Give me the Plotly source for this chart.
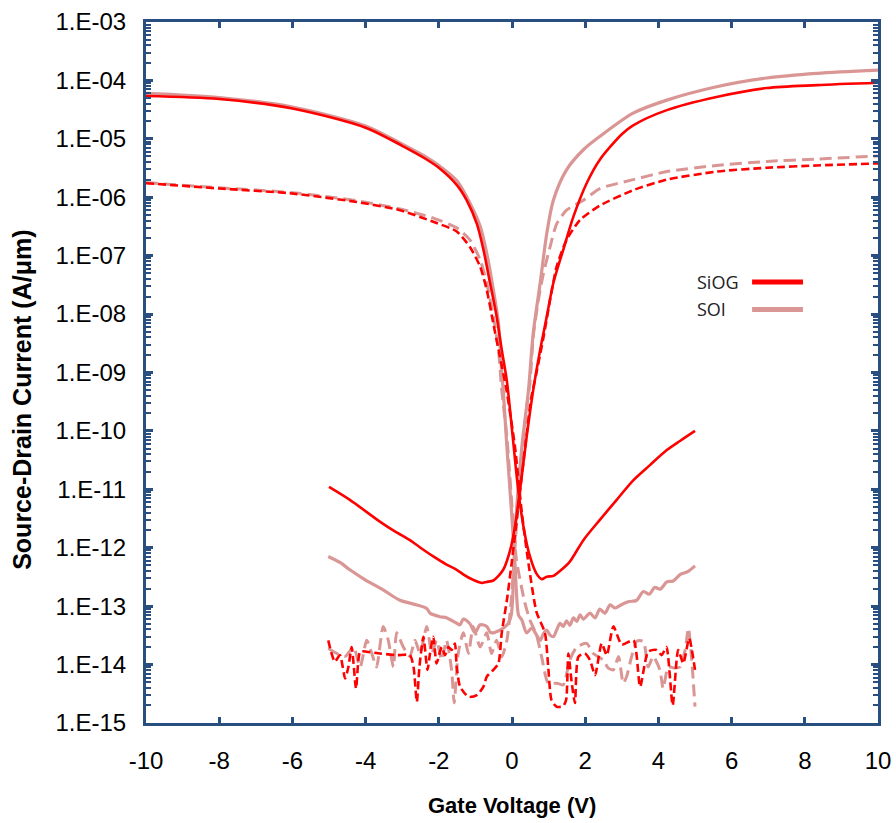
import plotly.graph_objects as go

# ---------------- data (Gate voltage V, source-drain current A/um) ----------------
# SiOG, high drain bias, p-branch (high current at negative gate voltage)
siog_hi_p_v = [-10, -8, -6, -4, -3, -2.4, -2.0, -1.5, -1.24, -0.96, -0.78, -0.6, -0.42, -0.28, -0.14,
               0.02, 0.17, 0.33, 0.49, 0.67, 0.81, 0.95, 1.13, 1.35, 1.58, 1.95, 2.4, 2.86, 3.3, 3.77, 4.23, 4.6, 5.0]
siog_hi_p_i = [5.4e-5, 4.8e-5, 3.3e-5, 1.55e-5, 7.6e-6, 4.7e-6, 3.2e-6, 1.6e-6, 8.9e-7, 3.5e-7, 1.26e-7, 3.4e-8, 9.1e-9, 2.45e-9, 7.1e-10,
               7.9e-11, 9.8e-12, 2.0e-12, 7.1e-13, 3.6e-13, 2.9e-13, 3.2e-13, 3.3e-13, 4.2e-13, 5.8e-13, 1.35e-12, 3.0e-12, 6.6e-12, 1.4e-11, 2.6e-11, 4.7e-11, 6.8e-11, 1.0e-10]

# SiOG, high drain bias, n-branch (high current at positive gate voltage)
siog_hi_n_v = [-5.0, -4.43, -3.61, -3.2, -2.79, -2.5, -2.15, -1.8, -1.51, -1.3, -1.15, -0.83, -0.7, -0.51, -0.24, -0.05, 0.08, 0.22,
               0.4, 0.58, 0.77, 0.95, 1.13, 1.4, 1.68, 2.04, 2.4, 3.0, 3.31, 4.23, 5.59, 6.96, 8.33, 10]
siog_hi_n_i = [1.1e-11, 6.6e-12, 2.8e-12, 1.9e-12, 1.35e-12, 1.0e-12, 7.1e-13, 5.2e-13, 4.2e-13, 3.4e-13, 3.0e-13, 2.5e-13, 2.6e-13, 2.75e-13, 4.2e-13, 9.1e-13, 2.3e-12, 9.8e-12,
               7.9e-11, 5.0e-10, 2.45e-9, 9.1e-9, 3.4e-8, 1.26e-7, 4.7e-7, 1.74e-6, 4.4e-6, 1.2e-5, 1.7e-5, 3.1e-5, 5.2e-5, 7.4e-5, 8.3e-5, 9.1e-5]

# SOI, high drain bias, p-branch
soi_hi_p_v = [-10, -8, -6, -4, -3, -2.4, -2.0, -1.5, -1.24, -0.87, -0.69, -0.51, -0.37, -0.3, -0.24, -0.14, -0.01, 0.08, 0.13, 0.18,
              0.27, 0.4, 0.54, 0.66, 0.77, 0.86, 0.95, 1.04, 1.13, 1.22, 1.31, 1.4, 1.49, 1.58, 1.68, 1.77, 1.86, 1.95, 2.13, 2.27, 2.4,
              2.54, 2.68, 2.82, 3.0, 3.2, 3.4, 3.59, 3.75, 3.9, 4.05, 4.23, 4.4, 4.6, 4.8, 5.0]
soi_hi_p_i = [6.0e-5, 5.1e-5, 3.5e-5, 1.66e-5, 8.1e-6, 5.1e-6, 3.5e-6, 1.9e-6, 1.02e-6, 3.2e-7, 1.1e-7, 2.6e-8, 6.9e-9, 1.45e-9, 5.0e-10, 5.4e-11, 3.9e-12, 5.4e-13, 1.4e-13, 7.0e-14,
              5.8e-14, 3.5e-14, 4.2e-14, 3.3e-14, 2.6e-14, 3.4e-14, 3.9e-14, 3.2e-14, 3.0e-14, 3.9e-14, 5.1e-14, 4.5e-14, 5.6e-14, 4.7e-14, 6.3e-14, 5.5e-14, 7.1e-14, 6.0e-14, 7.6e-14, 6.3e-14, 8.9e-14,
              7.6e-14, 1.05e-13, 9.3e-14, 1.07e-13, 1.2e-13, 1.25e-13, 1.78e-13, 1.6e-13, 2.1e-13, 1.95e-13, 2.6e-13, 2.7e-13, 3.5e-13, 3.9e-13, 4.9e-13]

# SOI, high drain bias, n-branch
soi_hi_n_v = [-5.02, -4.7, -4.43, -4.0, -3.52, -3.06, -2.6, -2.33, -2.24, -1.97, -1.78, -1.51, -1.42, -1.33, -1.15, -1.01, -0.87, -0.69, -0.6,
              -0.51, -0.33, -0.2, -0.1, -0.02, 0.03, 0.07, 0.13, 0.27, 0.45, 0.58, 0.77, 0.95, 1.13, 1.49, 1.95, 2.4, 3.31, 4.23, 5.59, 6.96, 8.33, 10]
soi_hi_n_i = [7.1e-13, 5.6e-13, 4.2e-13, 2.8e-13, 1.9e-13, 1.26e-13, 1.05e-13, 9.1e-14, 7.6e-14, 6.6e-14, 6.3e-14, 5.1e-14, 4.8e-14, 6.0e-14, 5.0e-14, 3.5e-14, 4.8e-14, 4.5e-14, 3.6e-14,
              3.5e-14, 3.9e-14, 4.4e-14, 5.1e-14, 7.1e-14, 2.0e-13, 1.0e-12, 5.0e-12, 5.4e-11, 5.0e-10, 4.7e-9, 3.4e-8, 2.4e-7, 8.9e-7, 2.95e-6, 6.5e-6, 1.1e-5, 2.75e-5, 4.6e-5, 7.8e-5, 1.1e-4, 1.32e-4, 1.5e-4]

# SiOG, low drain bias, p-branch
siog_lo_p_v = [-10, -7.98, -6.07, -4.24, -3.06, -2.15, -1.51, -1.15, -0.87, -0.69, -0.51, -0.33, -0.15, 0.08, 0.27, 0.45, 0.67, 0.9, 0.99,
               1.08, 1.22, 1.4, 1.48, 1.54, 1.63, 1.72, 1.81, 1.99, 2.13, 2.27, 2.45, 2.59, 2.77, 3.0, 3.32, 3.5, 3.72, 3.95, 4.09, 4.22,
               4.39, 4.54, 4.68, 4.84, 5.0]
siog_lo_p_i = [1.74e-6, 1.41e-6, 1.17e-6, 8.3e-7, 6.0e-7, 3.8e-7, 2.6e-7, 1.41e-7, 6.5e-8, 2.6e-8, 6.9e-9, 1.86e-9, 5.0e-10, 5.4e-11, 3.9e-12, 5.4e-13, 7.9e-14, 3.5e-14, 9.1e-15,
               2.45e-15, 1.9e-15, 1.95e-15, 2.5e-15, 1.55e-14, 5.0e-15, 2.2e-15, 1.35e-14, 1.55e-14, 1.2e-14, 6.6e-15, 2.3e-14, 1.45e-14, 4.5e-14, 2.2e-14, 2.6e-14, 4.2e-15, 1.66e-14, 1.78e-14, 1.45e-14, 2.0e-14,
               2.0e-15, 1.78e-14, 1.05e-14, 2.8e-14, 8.1e-15]

# SiOG, low drain bias, n-branch
siog_lo_n_v = [-5.02, -4.93, -4.84, -4.7, -4.56, -4.47, -4.38, -4.26, -4.15, -3.97, -3.61, -3.15, -2.79, -2.69, -2.6, -2.53, -2.42, -2.31, -2.24,
               -2.15, -2.06, -1.92, -1.83, -1.74, -1.65, -1.56, -1.51, -1.42, -1.19, -0.96, -0.78, -0.69, -0.51, -0.37, -0.28, -0.14, -0.01,
               0.17, 0.36, 0.52, 0.67, 0.86, 1.04, 1.22, 1.49, 1.86, 2.4, 3.31, 4.23, 5.59, 6.96, 8.33, 10]
siog_lo_n_i = [2.6e-14, 1.55e-14, 1.12e-14, 1.45e-14, 5.8e-15, 9.1e-15, 2.0e-14, 3.9e-15, 1.66e-14, 1.66e-14, 1.55e-14, 1.45e-14, 1.45e-14, 9.1e-15, 2.3e-15, 9.1e-15, 3.0e-14, 8.1e-15, 1.55e-14,
               3.0e-14, 1.05e-14, 2.0e-14, 1.45e-14, 2.0e-14, 1.78e-14, 2.3e-14, 9.1e-15, 4.2e-15, 2.8e-15, 3.0e-15, 4.2e-15, 6.2e-15, 8.1e-15, 1.05e-14, 3.5e-14, 1.26e-13, 5.4e-13,
               5.0e-12, 5.4e-11, 3.5e-10, 1.0e-9, 4.0e-9, 1.74e-8, 6.5e-8, 1.86e-7, 4.1e-7, 7.2e-7, 1.32e-6, 2.0e-6, 2.75e-6, 3.2e-6, 3.5e-6, 3.8e-6]

# SOI, low drain bias, p-branch
soi_lo_p_v = [-10, -8, -6, -4.24, -3.06, -2.15, -1.51, -1.15, -0.87, -0.69, -0.51, -0.37, -0.28, -0.14, -0.01, 0.12, 0.35, 0.49, 0.67, 0.81,
              0.99, 1.22, 1.4, 1.58, 1.77, 2.04, 2.22, 2.49, 2.63, 2.77, 2.91, 3.04, 3.13, 3.27, 3.41, 3.59, 3.72, 3.86, 4.04, 4.13, 4.27,
              4.45, 4.59, 4.73, 4.82, 4.91, 5.0]
soi_lo_p_i = [1.78e-6, 1.45e-6, 1.2e-6, 8.7e-7, 6.3e-7, 4.4e-7, 3.0e-7, 1.86e-7, 8.5e-8, 3.4e-8, 9.1e-9, 2.45e-9, 5.0e-10, 7.9e-11, 6.3e-12, 6.3e-13, 1.15e-13, 5.8e-14, 3.2e-14, 1.35e-14,
              4.8e-15, 4.8e-15, 4.5e-15, 1.2e-14, 2.0e-14, 2.3e-14, 1.55e-14, 1.2e-14, 8.7e-15, 8.1e-15, 1.38e-14, 4.8e-15, 6.2e-15, 1.38e-14, 2.5e-14, 2.5e-14, 9.1e-15, 1.38e-14, 8.1e-15, 3.9e-15, 9.1e-15,
              8.7e-15, 9.1e-15, 1.78e-14, 4.2e-14, 1.2e-14, 1.9e-15]

# SOI, low drain bias, n-branch
soi_lo_n_v = [-5.02, -4.79, -4.56, -4.33, -4.15, -3.97, -3.83, -3.7, -3.52, -3.38, -3.24, -3.15, -2.97, -2.79, -2.65, -2.51, -2.33, -2.19, -2.06,
              -1.92, -1.79, -1.65, -1.58, -1.47, -1.33, -1.19, -1.06, -0.87, -0.69, -0.56, -0.42, -0.28, -0.14, -0.02, 0.1, 0.25, 0.4, 0.49,
              0.58, 0.72, 0.86, 1.04, 1.22, 1.49, 1.95, 2.4, 3.31, 4.23, 5.59, 6.96, 8.33, 10]
soi_lo_n_i = [1.9e-14, 1.55e-14, 1.38e-14, 2.0e-14, 9.1e-15, 2.6e-14, 1.55e-14, 9.1e-15, 4.5e-14, 2.6e-14, 9.1e-15, 3.5e-14, 2.0e-14, 1.38e-14, 2.6e-14, 1.55e-14, 4.5e-14, 1.55e-14, 2.6e-14,
              1.2e-14, 2.6e-14, 8.1e-15, 2.2e-15, 1.55e-14, 3.5e-14, 1.55e-14, 4.5e-14, 2.0e-14, 3.5e-14, 1.55e-14, 2.6e-14, 1.35e-14, 2.6e-14, 1.26e-13, 1.58e-12, 2.5e-11, 2.5e-10, 6.6e-10,
              4.1e-9, 1.74e-8, 5.0e-8, 1.41e-7, 3.5e-7, 6.0e-7, 8.9e-7, 1.41e-6, 2.0e-6, 2.75e-6, 3.5e-6, 4.1e-6, 4.5e-6, 5.1e-6]

x_tick_vals = [-10, -8, -6, -4, -2, 0, 2, 4, 6, 8, 10]
x_tick_text = ["-10", "-8", "-6", "-4", "-2", "0", "2", "4", "6", "8", "10"]
y_tick_vals = [1e-15, 1e-14, 1e-13, 1e-12, 1e-11, 1e-10, 1e-9, 1e-8, 1e-7, 1e-6, 1e-5, 1e-4, 1e-3]
y_tick_text = ["1.E-15", "1.E-14", "1.E-13", "1.E-12", "1.E-11", "1.E-10", "1.E-09",
               "1.E-08", "1.E-07", "1.E-06", "1.E-05", "1.E-04", "1.E-03"]
legend_names = ["SiOG", "SOI"]
x_title = "Gate Voltage (V)"
y_title = "Source-Drain Current (A/μm)"

# ---------------- styles ----------------
RED = "#FF0000"
PINK = "#D99694"
FRAME = "#284F80"
FONT = "Liberation Sans, Arial, sans-serif"

fig = go.Figure()

def add(xv, yv, color, width, dash, smooth):
    fig.add_trace(go.Scatter(x=xv, y=yv, mode="lines", showlegend=False,
                             line=dict(color=color, width=width, dash=dash,
                                       shape="spline", smoothing=smooth)))

# pink (SOI) under red (SiOG)
add(soi_lo_p_v, soi_lo_p_i, PINK, 3, "12px,6px", 0.6)
add(soi_lo_n_v, soi_lo_n_i, PINK, 3, "12px,6px", 0.6)
add(soi_hi_p_v, soi_hi_p_i, PINK, 3.2, "solid", 0.8)
add(soi_hi_n_v, soi_hi_n_i, PINK, 3.2, "solid", 0.8)
add(siog_lo_p_v, siog_lo_p_i, RED, 2.6, "8px,4px", 0.6)
add(siog_lo_n_v, siog_lo_n_i, RED, 2.6, "8px,4px", 0.6)
add(siog_hi_p_v, siog_hi_p_i, RED, 2.6, "solid", 0.8)
add(siog_hi_n_v, siog_hi_n_i, RED, 2.6, "solid", 0.8)

minor_vals = [m * 10.0 ** e for e in range(-15, -3) for m in range(2, 10)]

fig.update_layout(
    width=896, height=823,
    margin=dict(l=146, r=18, t=22, b=100),
    plot_bgcolor="white", paper_bgcolor="white",
    font=dict(family=FONT, color="black"),
    xaxis=dict(
        range=[-10, 10], tickvals=x_tick_vals, ticktext=x_tick_text, automargin=False,
        showline=True, linecolor=FRAME, linewidth=3, mirror="ticks",
        ticks="inside", ticklen=6, tickwidth=2.5, tickcolor=FRAME,
        showgrid=False, zeroline=False,
        tickfont=dict(size=24, family=FONT, color="black"),
        ticklabelstandoff=14,
    ),
    yaxis=dict(
        type="log", range=[-15, -3], automargin=False,
        tickvals=y_tick_vals, ticktext=y_tick_text,
        showline=True, linecolor=FRAME, linewidth=3, mirror="ticks",
        ticks="inside", ticklen=7, tickwidth=2.5, tickcolor=FRAME,
        minor=dict(tickvals=minor_vals, ticks="inside", ticklen=5, tickwidth=2, tickcolor=FRAME, showgrid=False),
        showgrid=False, zeroline=False,
        tickfont=dict(size=24, family=FONT, color="black"),
        ticklabelstandoff=12,
    ),
)

# axis titles
fig.add_annotation(x=0.5, y=-0.117, xref="paper", yref="paper", text="<b>" + x_title + "</b>",
                   showarrow=False, xanchor="center", yanchor="middle",
                   font=dict(size=22, family=FONT, color="black"))
fig.add_annotation(x=-0.1694, y=0.461, xref="paper", yref="paper", text="<b>" + y_title + "</b>",
                   showarrow=False, xanchor="center", yanchor="middle", textangle=-90,
                   font=dict(size=25, family=FONT, color="black"))

# legend (text left of line sample)
leg_y = [0.629, 0.590]
for name, col, yy in zip(legend_names, [RED, PINK], leg_y):
    fig.add_annotation(x=0.75, y=yy, xref="paper", yref="paper", text=name, showarrow=False,
                       xanchor="left", yanchor="middle",
                       font=dict(family="Open Sans, sans-serif", size=18, color="#222222"))
    fig.add_shape(type="line", xref="paper", yref="paper", x0=0.828, x1=0.8975, y0=yy, y1=yy,
                  line=dict(color=col, width=5))

fig.write_html("out.html")
